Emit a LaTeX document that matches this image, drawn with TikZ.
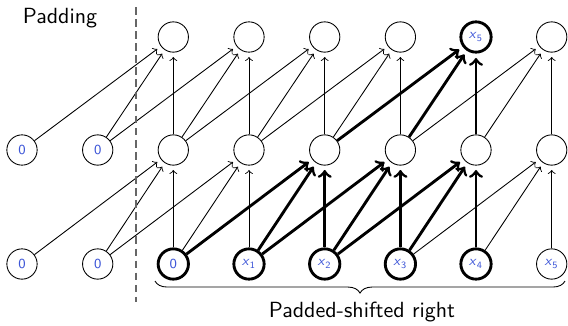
\documentclass[tikz,border=0pt]{standalone}
\usepackage{amsmath}
\usepackage{tikz}
\usetikzlibrary{decorations.pathreplacing}
\renewcommand{\familydefault}{\sfdefault}
\definecolor{lblblue}{RGB}{60,85,215}
\newcommand{\xs}[1]{\textit{x}\textsubscript{#1}}

\begin{document}
\begin{tikzpicture}[
		x=0.016cm, y=-0.016cm,
		neuron/.style={circle,draw,minimum size=13.8pt,inner sep=0pt,font=\fontsize{6.3}{7}\selectfont,text=lblblue},
		hot/.style={neuron,line width=1.3pt},
		conn/.style={->,shorten >=2pt},
		hotconn/.style={conn,line width=1.3pt}
		]
		\useasboundingbox (0,0) rectangle (568,325);
		% input row
		\node[neuron] (b0) at (22,264) {0};
		\node[neuron] (b1) at (97.7,264) {0};
		\node[hot] (b2) at (173.3,264) {0};
		\node[hot] (b3) at (249,264) {\xs{1}};
		\node[hot] (b4) at (324.7,264) {\xs{2}};
		\node[hot] (b5) at (400.4,264) {\xs{3}};
		\node[hot] (b6) at (476,264) {\xs{4}};
		\node[neuron] (b7) at (551.7,264) {\xs{5}};
		% hidden row
		\node[neuron] (m0) at (22,150) {0};
		\node[neuron] (m1) at (97.7,150) {0};
		\node[neuron] (m2) at (173.3,150) {};
		\node[neuron] (m3) at (249,150) {};
		\node[neuron] (m4) at (324.7,150) {};
		\node[neuron] (m5) at (400.4,150) {};
		\node[neuron] (m6) at (476,150) {};
		\node[neuron] (m7) at (551.7,150) {};
		% output row
		\node[neuron] (t2) at (173.3,37) {};
		\node[neuron] (t3) at (249,37) {};
		\node[neuron] (t4) at (324.7,37) {};
		\node[neuron] (t5) at (400.4,37) {};
		\node[hot] (t6) at (476,37) {\xs{5}};
		\node[neuron] (t7) at (551.7,37) {};
		
		% thin connections
		\foreach \a/\b in {b0/m2,b1/m2,b2/m2,b1/m3,b2/m3,b3/m3,b5/m7,b6/m7,b7/m7,
			m0/t2,m1/t2,m2/t2,m1/t3,m2/t3,m3/t3,m2/t4,m3/t4,m4/t4,
			m3/t5,m4/t5,m5/t5,m5/t7,m6/t7,m7/t7}
			\draw[conn] (\a) -- (\b);
		% receptive field of the last output
		\foreach \a/\b in {b2/m4,b3/m4,b4/m4,b3/m5,b4/m5,b5/m5,b4/m6,b5/m6,b6/m6,
			m4/t6,m5/t6,m6/t6}
			\draw[hotconn] (\a) -- (\b);
		
		\coordinate (padtop) at (136,7);
		\coordinate (padbot) at (136,302);
		\draw[gray!80!black,line width=0.6pt,dash pattern=on 3.5pt off 2pt] (padtop) -- (padbot);
		\node (padlbl) at (60,18) {Padding};
		
		\coordinate (brl) at (155,281);
		\coordinate (brr) at (565,281);
		\draw[decorate,decoration={brace,mirror,amplitude=5.5pt}] (brl) -- (brr);
		\node (shiftlbl) at (362,312) {Padded-shifted right};
	\end{tikzpicture}
\end{document}
